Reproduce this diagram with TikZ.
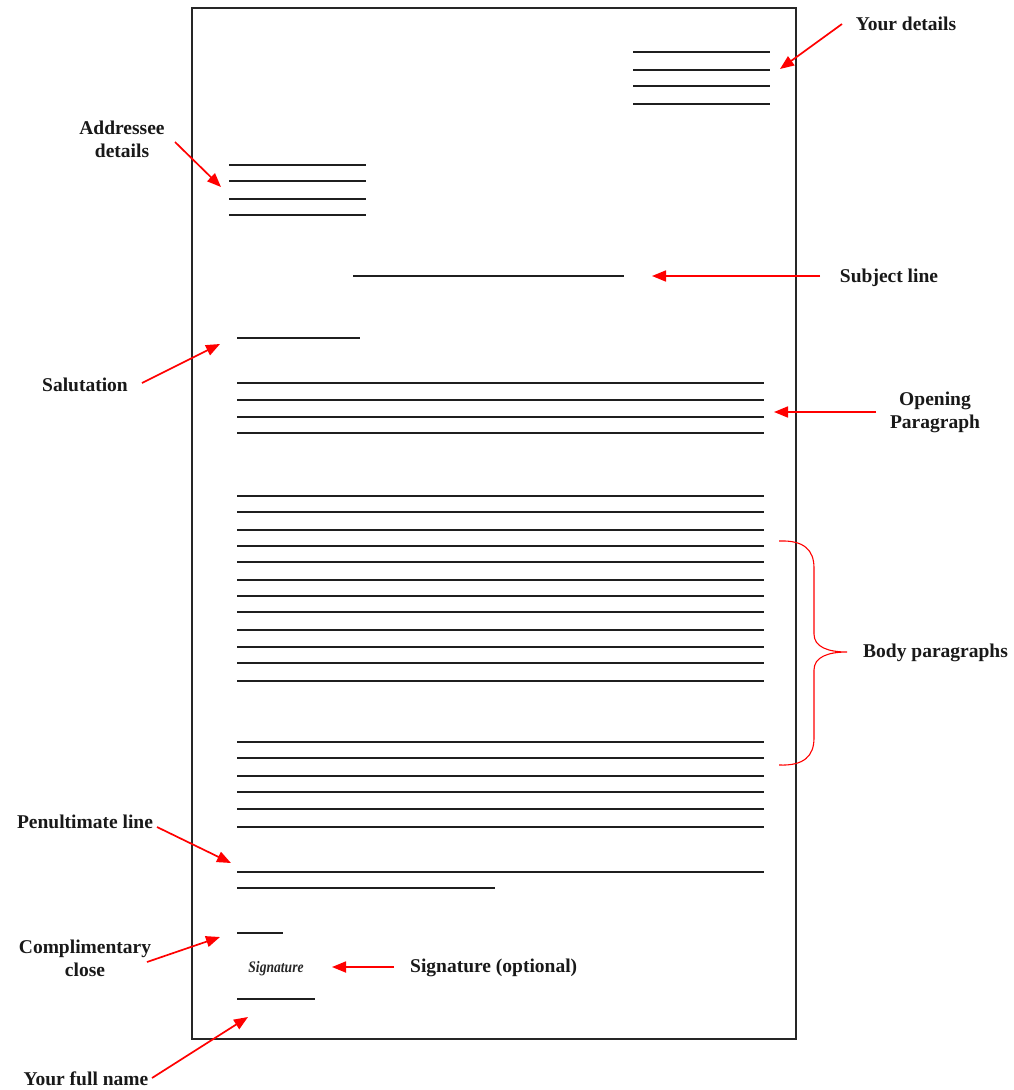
\documentclass[tikz,border=0pt]{standalone}
\usepackage{fontspec}
\setmainfont{Liberation Serif}
\usetikzlibrary{arrows.meta}
\begin{document}
\begin{tikzpicture}[x=1pt,y=-1pt,
  txtline/.style={line width=1.9pt,black!88},
  frame/.style={line width=1.5pt,black!85},
  callout/.style={red,line width=1.7pt,-{Triangle[length=14pt,width=11pt]}},
  lbl/.style={font=\fontsize{19.5}{23}\selectfont\bfseries,text=black!90,inner sep=0pt,align=center},
  bracestyle/.style={red,line width=1.1pt}]
\useasboundingbox (0,0) rectangle (1014,1090);
\fill[white] (0,0) rectangle (1014,1090);
% page frame
\draw[frame] (192,8) rectangle (796,1039);
% your details
\foreach \y in {52,70,86,104} \draw[txtline] (633,\y) -- (770,\y);
% addressee
\foreach \y in {165,181,199,215} \draw[txtline] (229,\y) -- (366,\y);
% subject
\draw[txtline] (353,276) -- (624,276);
% salutation
\draw[txtline] (237,338) -- (360,338);
% opening paragraph
\foreach \y in {383,400,417,433} \draw[txtline] (237,\y) -- (764,\y);
% body paragraph 1
\foreach \y in {496,512,530,546,562,580,596,612,630,647,663,681} \draw[txtline] (237,\y) -- (764,\y);
% body paragraph 2
\foreach \y in {742,758,776,792,809,827} \draw[txtline] (237,\y) -- (764,\y);
% penultimate
\draw[txtline] (237,872) -- (764,872);
\draw[txtline] (237,888) -- (495,888);
% complimentary close
\draw[txtline] (237,933) -- (283,933);
% signature
\node[inner sep=0pt,font=\fontsize{16}{16}\selectfont\bfseries\itshape,xscale=0.85,text=black!85] (sig) at (276,969) {Signature};
% name
\draw[txtline] (237,999) -- (315,999);

% labels
\node[lbl] (lyour) at (906,24) {Your details};
\node[lbl] (laddr) at (122,139) {Addressee\\details};
\node[lbl] (lsubj) at (889,278) {Subject line};
\node[lbl] (lsal) at (85,385) {Salutation};
\node[lbl] (lopen) at (935,412) {Opening\\Paragraph};
\node[lbl,anchor=west] (lbody) at (863,653) {Body paragraphs};
\node[lbl] (lpen) at (85,822) {Penultimate line};
\node[lbl] (lcomp) at (85,958) {Complimentary\\close};
\node[lbl,anchor=west] (lsig) at (410,968) {Signature (optional)};
\node[lbl,anchor=base] (lname) at (86,1085) {Your full name};

% arrow endpoints
\coordinate (a1s) at (842,24);  \coordinate (a1e) at (780,69);
\coordinate (a2s) at (175,142); \coordinate (a2e) at (221,187);
\coordinate (a3s) at (820,276); \coordinate (a3e) at (652,276);
\coordinate (a4s) at (142,383); \coordinate (a4e) at (220,344);
\coordinate (a5s) at (876,412); \coordinate (a5e) at (774,412);
\coordinate (a6s) at (157,827); \coordinate (a6e) at (231,863);
\coordinate (a7s) at (147,962); \coordinate (a7e) at (220,937);
\coordinate (a8s) at (394,967); \coordinate (a8e) at (332,967);
\coordinate (a9s) at (152,1078); \coordinate (a9e) at (248,1017);
\foreach \i in {1,...,9} \draw[callout] (a\i s) -- (a\i e);

% brace
\draw[bracestyle] (779,541) .. controls (804,540) and (814,550) .. (814,568)
  -- (814,634) .. controls (814,647) and (828,652) .. (847,652)
  .. controls (828,652) and (814,657) .. (814,670)
  -- (814,738) .. controls (814,756) and (804,766) .. (779,765);
\end{tikzpicture}
\end{document}
